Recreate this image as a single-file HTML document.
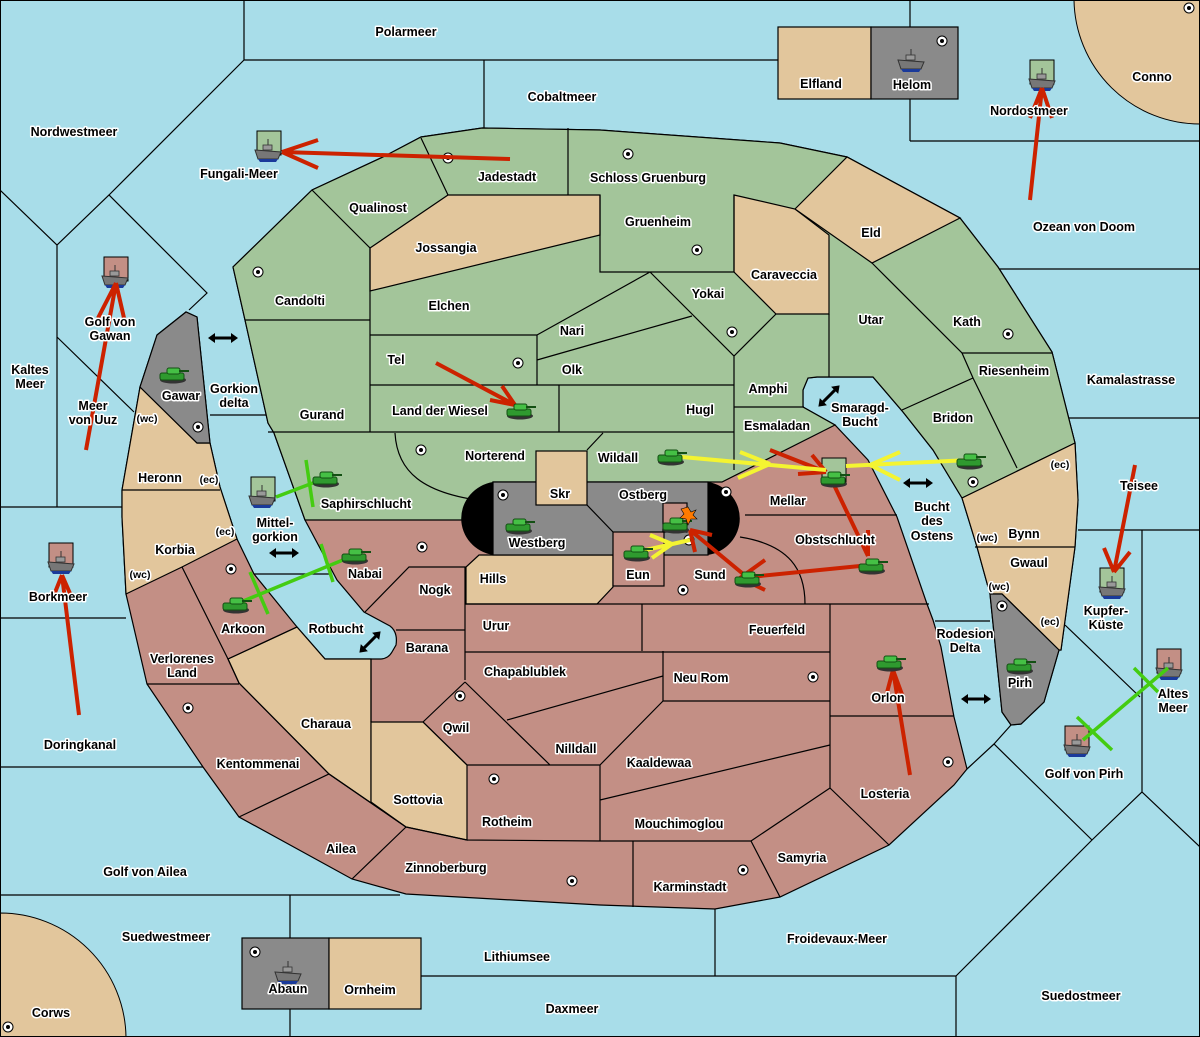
<!DOCTYPE html>
<html><head><meta charset="utf-8"><style>
html,body{margin:0;padding:0;background:#a8dde9}
svg{display:block}
text{font-family:"Liberation Sans",sans-serif;font-weight:bold;font-size:12.5px;fill:#000;stroke:#fff;stroke-width:3px;paint-order:stroke;stroke-linejoin:round;text-anchor:middle}
.s{font-size:10.5px}
.b{stroke:#000;stroke-width:1.2;fill:none}
.r{stroke:#cc2200;stroke-width:4;fill:none;stroke-linecap:butt}
.y{stroke:#f4f431;stroke-width:4;fill:none}
.g{stroke:#44cc11;stroke-width:3.5;fill:none}
</style></head><body>
<svg width="1200" height="1037" viewBox="0 0 1200 1037" xmlns="http://www.w3.org/2000/svg">
<defs>
<g id="tank">
<ellipse cx="0" cy="6" rx="13" ry="3.5" fill="#333"/>
<rect x="-13" y="-1" width="24" height="7" rx="2" fill="#2f9a2f" stroke="#135013" stroke-width="1"/>
<rect x="-6" y="-6" width="13" height="6" rx="2" fill="#45c045" stroke="#135013" stroke-width="1"/>
<rect x="6" y="-4" width="10" height="2" fill="#135013"/>
</g>
<g id="ship">
<path d="M-13,0 L13,2 L10,9 L-10,9 Z" fill="#777" stroke="#333" stroke-width="1"/>
<path d="M-10,9 L10,9 L8,12 L-8,12Z" fill="#1a3a9a"/>
<rect x="-5" y="-5" width="9" height="5" fill="#999" stroke="#333" stroke-width="0.8"/>
<line x1="0" y1="-11" x2="0" y2="-5" stroke="#333" stroke-width="1"/>
</g>
<g id="dot"><circle r="5" fill="#fff" stroke="#000" stroke-width="1"/><circle r="2" fill="#000"/></g>
<g id="dar"><line x1="-11" y1="0" x2="11" y2="0" stroke="#000" stroke-width="3"/><path d="M-15,0 L-8,-5 L-8,5Z M15,0 L8,-5 L8,5Z" fill="#000"/></g>
</defs>
<rect width="1200" height="1037" fill="#a8dde9"/>
<g class="b" stroke-width="1">
<path d="M244,0V60H778 M484,60V128 M244,60L109,195 M0,190L57,245L109,195L207,293L189,310 M57,245V507 M57,337L134,412 M0,507H122 M210,415H266 M0,618H126 M0,767H203 M0,895H400 M290,895V938 M290,1009V1037 M421,976H956 M715,909V976 M956,976V1037 M956,976L1092,840L1142,792L1200,847 M1092,840L994,744L967,769 M994,744L1011,725 M1065,625L1140,697 M1142,530V792 M1078,530H1200 M1067,418H1200 M998,269H1200 M910,141H1200 M910,99V141 M910,0V27 M254,574H331 M935,621H990"/>
</g>
<path d="M1074,0 A126,126 0 0 0 1200,124 L1200,0Z" fill="#e2c69c" stroke="#000"/>
<path d="M0,913 A126,126 0 0 1 126,1037 L0,1037Z" fill="#e2c69c" stroke="#000"/>
<rect x="778" y="27" width="93" height="72" fill="#e2c69c" stroke="#000" stroke-width="1.2"/>
<rect x="871" y="27" width="87" height="72" fill="#8a8a8a" stroke="#000" stroke-width="1.2"/>
<rect x="242" y="938" width="87" height="71" fill="#8a8a8a" stroke="#000" stroke-width="1.2"/>
<rect x="329" y="938" width="92" height="71" fill="#e2c69c" stroke="#000" stroke-width="1.2"/>
<path fill="#c38f85" stroke="#000" stroke-width="1.2" d="M157,335 L140,387 L122,490 L122,517 L126,594 L147,684 L203,767 L239,817 L352,879 L406,894 L600,905 L715,909 L780,897 L889,845 L954,785 L967,769 L954,717 L941,647 L933,620 L927,604 L897,517 L868,460 L835,425 L803,407 L803,390 L808,378 L817,377 L873,377 L903,412 L933,450 L962,498 L977,547 L990,594 L1002,712 L1011,725 L1021,724 L1044,702 L1059,650 L1061,650 L1075,547 L1078,500 L1075,443 L1052,352 L998,267 L960,218 L847,157 L780,143 L600,130 L482,128 L421,137 L383,157 L312,190 L233,267 L245,320 L268,423 L274,433 L305,520 L337,580 L364,612 L390,626 Q398,632 396,645 L392,652 Q388,659 380,659 L325,659 L297,627 L254,574 L237,539 L220,487 L210,443 L197,317 L186,312 Z"/>
<path fill="#a3c59a" stroke="#000" stroke-width="1.2" d="M233,267 L312,190 L383,157 L421,137 L482,128 L600,130 L780,143 L847,157 L960,218 L998,267 L1052,352 L1075,443 L962,498 L933,450 L903,412 L873,377 L817,377 L808,378 L803,390 L803,407 L835,425 L722,482 L493,482 L493,520 L305,520 L274,433 L268,423 L245,320 Z"/>
<g fill="#e2c69c" stroke="#000" stroke-width="1.2">
<path d="M370,248 L448,195 L600,195 L600,235 L370,291Z"/>
<path d="M734,195 L795,209 L829,235 L829,314 L776,314 L734,272Z"/>
<path d="M795,209 L847,157 L960,218 L872,263Z"/>
<path d="M962,498 L1075,443 L1078,500 L1075,547 L1061,650 L1059,650 L1002,594 L990,594 L977,547Z"/>
<path d="M140,387 L197,443 L210,443 L220,487 L237,539 L182,567 L126,594 L122,517 L122,490Z"/>
<path d="M297,627 L325,659 L371,659 L371,802 L406,827 L329,774 L239,683 L228,659Z"/>
<path d="M371,722 L423,722 L467,765 L467,840 L406,827 L371,802Z"/>
<path d="M479,555 L613,555 L613,587 L597,604 L466,604 L466,567Z"/>
</g>
<g fill="#8a8a8a" stroke="#000" stroke-width="1.2">
<path d="M157,335 L186,312 L197,317 L210,443 L197,443 L140,387Z"/>
<path d="M990,594 L1002,594 L1059,650 L1044,702 L1021,724 L1011,725 L1002,712Z"/>
<rect x="493" y="482" width="215" height="73"/>
</g>
<path d="M493,482 A38,37 0 0 0 493,555Z M708,482 A38,37 0 0 1 708,555Z" fill="#000"/>
<rect x="536" y="451" width="51" height="54" fill="#e2c69c" stroke="#000" stroke-width="1.2"/>
<rect x="613" y="532" width="51" height="54" fill="#c38f85" stroke="#000" stroke-width="1.2"/>
<rect x="663" y="503" width="24" height="29" fill="#c38f85" stroke="#000" stroke-width="1.2"/>
<path class="b" d="M312,190L370,248V432 M245,320H370 M421,138L448,195 M568,128V195 M600,195V272H734V195 M370,335H537V385 M537,335L650,272 M537,360L600,342L692,316 M650,272L734,356L776,314 M370,385H734 M559,385V432 M268,432H734 M734,356V470 M734,407H804 M829,314V377 M872,263L962,353L973,378L902,410 M962,353H1052 M973,378L1017,468 M395,433C397,470 420,495 493,502 M603,433L587,450 M587,505L613,532 M745,515H897 M740,537C790,545 805,570 805,604 M365,612L409,567H465V680 M396,630H465 M465,604H929 M642,604V651 M465,652H830 M507,720L663,676 M663,651V701H830 M830,604V788 M830,716H954 M600,765L663,701 M465,682L423,722 M423,722L467,765 M465,682L550,765 M467,765H600V841 M600,800L830,745 M467,840L600,841H751 M633,841V907 M751,841L830,788 M751,841L780,897 M830,788L889,845 M371,659V722 M182,567L228,659L239,683 M147,684H239 M239,683L329,774 M239,817L329,774L406,827L352,879 M406,827L467,840 M228,659L297,627 M122,490H220 M975,547H1075"/>
<g>
<use href="#dot" x="448" y="158"/><use href="#dot" x="628" y="154"/><use href="#dot" x="697" y="250"/><use href="#dot" x="258" y="272"/><use href="#dot" x="518" y="363"/><use href="#dot" x="732" y="332"/><use href="#dot" x="1008" y="334"/><use href="#dot" x="973" y="482"/><use href="#dot" x="421" y="450"/><use href="#dot" x="503" y="495"/><use href="#dot" x="198" y="427"/><use href="#dot" x="726" y="492"/><use href="#dot" x="689" y="540"/><use href="#dot" x="683" y="590"/><use href="#dot" x="422" y="547"/><use href="#dot" x="231" y="569"/><use href="#dot" x="188" y="708"/><use href="#dot" x="460" y="696"/><use href="#dot" x="494" y="779"/><use href="#dot" x="813" y="677"/><use href="#dot" x="948" y="762"/><use href="#dot" x="572" y="881"/><use href="#dot" x="743" y="870"/><use href="#dot" x="1002" y="606"/><use href="#dot" x="942" y="41"/><use href="#dot" x="1189" y="8"/><use href="#dot" x="255" y="952"/><use href="#dot" x="8" y="1027"/>
</g>
<g stroke="#000" stroke-width="1">
<rect x="257" y="131" width="24" height="24" fill="#a3c59a"/>
<rect x="104" y="257" width="24" height="24" fill="#c38f85"/>
<rect x="1030" y="60" width="24" height="24" fill="#a3c59a"/>
<rect x="251" y="477" width="24" height="24" fill="#a3c59a"/>
<rect x="49" y="543" width="24" height="24" fill="#c38f85"/>
<rect x="1100" y="568" width="24" height="24" fill="#a3c59a"/>
<rect x="1157" y="649" width="24" height="24" fill="#c38f85"/>
<rect x="1065" y="726" width="24" height="24" fill="#c38f85"/>
<rect x="822" y="458" width="24" height="24" fill="#a3c59a"/>
</g>
<g>
<use href="#ship" x="268" y="150"/><use href="#ship" x="115" y="276"/><use href="#ship" x="1042" y="79"/><use href="#ship" x="262" y="496"/><use href="#ship" x="61" y="562"/><use href="#ship" x="1112" y="587"/><use href="#ship" x="1169" y="668"/><use href="#ship" x="1077" y="745"/><use href="#ship" x="911" y="60"/><use href="#ship" x="288" y="972"/>
</g>
<path class="r" d="M510,159L282,152 M282,152L318,140 M282,152L318,168"/>
<path class="r" d="M86,450L116,283 M116,283L98,318 M116,283L124,318"/>
<path class="r" d="M1030,200L1042,88 M1042,88L1030,118 M1042,88L1052,118"/>
<path class="r" d="M79,715L62,575 M62,575L52,600 M62,575L72,598"/>
<path class="r" d="M1135,465L1114,572 M1114,572L1104,548 M1114,572L1130,552"/>
<path class="r" d="M436,363L515,405 M515,405L490,400 M515,405L502,386"/>
<path class="r" d="M770,450L826,472 M826,472L798,474 M826,472L812,455"/>
<path class="r" d="M834,485L868,556 M868,556L868,530"/>
<path class="r" d="M870,565L740,578 M740,578L765,560 M740,578L765,590"/>
<path class="r" d="M748,578L690,530 M690,530L712,535 M690,530L695,552"/>
<path class="r" d="M910,775L893,670 M893,670L885,700 M893,670L904,700"/>
<path class="y" d="M671,456L826,470 M770,464L740,452 M770,464L738,478"/>
<path class="y" d="M970,460L846,466 M870,465L900,452 M870,465L900,480"/>
<path class="y" d="M637,552L690,540 M672,544L650,535 M672,544L652,558"/>
<path class="g" d="M276,497L326,478 M306,460L313,507"/>
<path class="g" d="M236,604L355,555 M250,572L268,614 M321,544L333,582"/>
<path class="g" d="M1168,668L1083,740 M1134,668L1158,692 M1077,717L1112,750"/>
<g>
<use href="#tank" x="173" y="374"/><use href="#tank" x="520" y="410"/><use href="#tank" x="326" y="478"/><use href="#tank" x="355" y="555"/><use href="#tank" x="236" y="604"/><use href="#tank" x="519" y="525"/><use href="#tank" x="671" y="456"/><use href="#tank" x="834" y="478"/><use href="#tank" x="970" y="460"/><use href="#tank" x="676" y="524"/><use href="#tank" x="637" y="552"/><use href="#tank" x="748" y="578"/><use href="#tank" x="872" y="565"/><use href="#tank" x="890" y="662"/><use href="#tank" x="1020" y="665"/>
</g>
<path d="M688,507 L691,512 L696,510 L693,515 L697,519 L691,519 L688,525 L686,519 L680,518 L684,514 L681,509Z" fill="#ff7a00" stroke="#000" stroke-width="0.6"/>
<use href="#dar" x="223" y="338"/><use href="#dar" x="284" y="553"/>
<g transform="translate(370,642) rotate(-45)"><use href="#dar"/></g>
<g transform="translate(829,396) rotate(-45)"><use href="#dar"/></g>
<use href="#dar" x="918" y="483"/><use href="#dar" x="976" y="699"/>
<g>
<text x="406" y="36">Polarmeer</text><text x="562" y="101">Cobaltmeer</text><text x="821" y="88">Elfland</text><text x="912" y="89">Helom</text><text x="1152" y="81">Conno</text>
<text x="74" y="136">Nordwestmeer</text><text x="239" y="178">Fungali-Meer</text><text x="507" y="181">Jadestadt</text><text x="648" y="182">Schloss Gruenburg</text><text x="1029" y="115">Nordostmeer</text>
<text x="378" y="212">Qualinost</text><text x="658" y="226">Gruenheim</text><text x="871" y="237">Eld</text><text x="1084" y="231">Ozean von Doom</text><text x="446" y="252">Jossangia</text><text x="784" y="279">Caraveccia</text>
<text x="300" y="305">Candolti</text><text x="449" y="310">Elchen</text><text x="708" y="298">Yokai</text><text x="871" y="324">Utar</text><text x="967" y="326">Kath</text>
<text x="110" y="326">Golf von</text><text x="110" y="340">Gawan</text><text x="572" y="335">Nari</text><text x="396" y="364">Tel</text><text x="572" y="374">Olk</text><text x="1014" y="375">Riesenheim</text><text x="1131" y="384">Kamalastrasse</text>
<text x="30" y="374">Kaltes</text><text x="30" y="388">Meer</text><text x="768" y="393">Amphi</text><text x="181" y="400">Gawar</text><text x="234" y="393">Gorkion</text><text x="234" y="407">delta</text>
<text x="93" y="410">Meer</text><text x="93" y="424">von Uuz</text><text x="440" y="415">Land der Wiesel</text><text x="700" y="414">Hugl</text><text x="322" y="419">Gurand</text>
<text x="860" y="412">Smaragd-</text><text x="860" y="426">Bucht</text><text x="953" y="422">Bridon</text><text class="s" x="147" y="422">(wc)</text><text x="777" y="430">Esmaladan</text>
<text x="495" y="460">Norterend</text><text x="618" y="462">Wildall</text><text x="160" y="482">Heronn</text><text class="s" x="209" y="483">(ec)</text><text x="788" y="505">Mellar</text><text x="560" y="498">Skr</text><text x="643" y="499">Ostberg</text>
<text x="1139" y="490">Teisee</text><text x="366" y="508">Saphirschlucht</text><text class="s" x="1060" y="468">(ec)</text><text x="932" y="511">Bucht</text><text x="932" y="525">des</text><text x="932" y="540">Ostens</text>
<text x="275" y="527">Mittel-</text><text x="275" y="541">gorkion</text><text x="1024" y="538">Bynn</text><text class="s" x="987" y="541">(wc)</text><text x="537" y="547">Westberg</text><text x="835" y="544">Obstschlucht</text>
<text class="s" x="225" y="535">(ec)</text><text x="175" y="554">Korbia</text><text class="s" x="140" y="578">(wc)</text><text x="365" y="578">Nabai</text><text x="638" y="579">Eun</text><text x="710" y="579">Sund</text><text x="493" y="583">Hills</text>
<text x="1029" y="567">Gwaul</text><text class="s" x="999" y="590">(wc)</text><text x="435" y="594">Nogk</text><text x="58" y="601">Borkmeer</text><text x="1106" y="615">Kupfer-</text><text x="1106" y="629">Küste</text><text class="s" x="1050" y="625">(ec)</text>
<text x="243" y="633">Arkoon</text><text x="336" y="633">Rotbucht</text><text x="496" y="630">Urur</text><text x="777" y="634">Feuerfeld</text><text x="965" y="638">Rodesion</text><text x="965" y="652">Delta</text><text x="427" y="652">Barana</text>
<text x="182" y="663">Verlorenes</text><text x="182" y="677">Land</text><text x="525" y="676">Chapablublek</text><text x="701" y="682">Neu Rom</text><text x="1020" y="687">Pirh</text><text x="1173" y="698">Altes</text><text x="1173" y="712">Meer</text><text x="888" y="702">Orlon</text>
<text x="326" y="728">Charaua</text><text x="456" y="732">Qwil</text><text x="80" y="749">Doringkanal</text><text x="576" y="753">Nilldall</text><text x="659" y="767">Kaaldewaa</text><text x="258" y="768">Kentommenai</text><text x="1084" y="778">Golf von Pirh</text>
<text x="885" y="798">Losteria</text><text x="418" y="804">Sottovia</text><text x="507" y="826">Rotheim</text><text x="679" y="828">Mouchimoglou</text><text x="341" y="853">Ailea</text><text x="802" y="862">Samyria</text><text x="446" y="872">Zinnoberburg</text>
<text x="145" y="876">Golf von Ailea</text><text x="690" y="891">Karminstadt</text><text x="166" y="941">Suedwestmeer</text><text x="837" y="943">Froidevaux-Meer</text><text x="517" y="961">Lithiumsee</text><text x="288" y="993">Abaun</text><text x="370" y="994">Ornheim</text>
<text x="1081" y="1000">Suedostmeer</text><text x="572" y="1013">Daxmeer</text><text x="51" y="1017">Corws</text>
</g>
<rect x="0.5" y="0.5" width="1199" height="1036" fill="none" stroke="#000"/>
</svg>
</body></html>
